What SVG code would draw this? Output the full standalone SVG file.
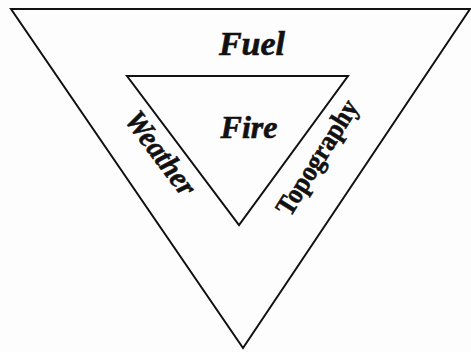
<svg xmlns="http://www.w3.org/2000/svg" width="471" height="352" viewBox="0 0 471 352">
<style>
.tri{fill:none;stroke:#111;stroke-width:2;stroke-linejoin:miter}
.lbl{font-family:"Liberation Serif",serif;font-weight:bold;font-style:italic;fill:#111;stroke:#111;stroke-width:0.6;text-anchor:middle}
.up{font-style:normal}
</style>
<rect width="471" height="352" fill="#fdfdfd"/>
<g id="outer">
<polygon class="tri" points="11,9 470,9 243,348"/>
<text class="lbl" x="252" y="55" font-size="34">Fuel</text>
</g>
<g id="inner">
<polygon class="tri" points="127,76 348,76 239,225"/>
<text class="lbl" x="249" y="138" font-size="32">Fire</text>
</g>
<g id="weather">
<text class="lbl" font-size="30" transform="translate(161,153) rotate(53) scale(0.95,1)" y="10">Weather</text>
</g>
<g id="topography">
<text class="lbl up" font-size="28" transform="translate(318,158) rotate(-58) scale(0.9,1)" y="8">Topography</text>
</g>
</svg>
